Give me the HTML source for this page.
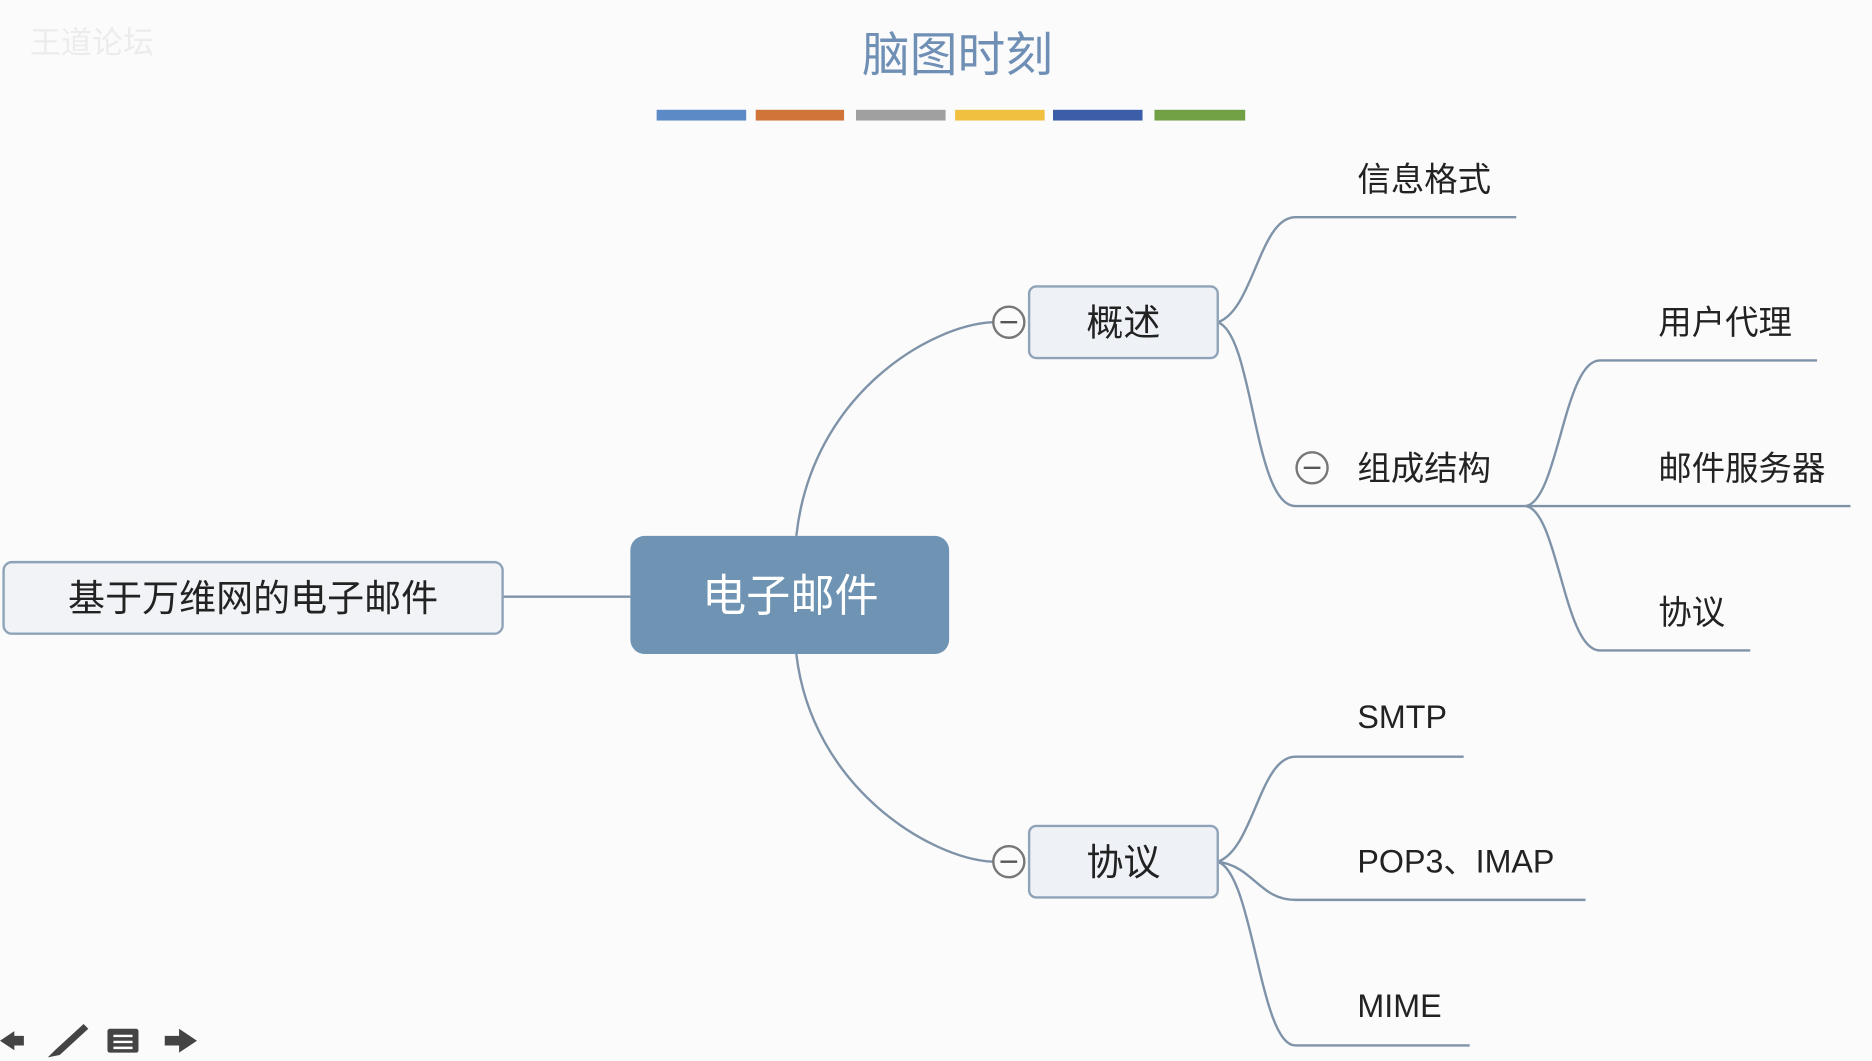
<!DOCTYPE html>
<html><head><meta charset="utf-8"><style>
html,body{margin:0;padding:0;background:#fbfbfc;}
svg{display:block}
text{font-family:"Liberation Sans","Noto Sans CJK SC",sans-serif;}
</style></head><body>
<svg width="1872" height="1061" viewBox="0 0 1568 889" preserveAspectRatio="none">
<rect width="1568" height="889" fill="#fbfbfc"/>
<text x="802" y="60" font-size="40" fill="#6f8fb5" text-anchor="middle">脑图时刻</text>
<g>
<rect x="550" y="92" width="75" height="9" fill="#5b8ac6"/>
<rect x="633" y="92" width="74" height="9" fill="#d0743a"/>
<rect x="717" y="92" width="75" height="9" fill="#a0a0a0"/>
<rect x="800" y="92" width="75" height="9" fill="#f0c040"/>
<rect x="882" y="92" width="75" height="9" fill="#3c5ea8"/>
<rect x="967" y="92" width="76" height="9" fill="#72a045"/>
</g>
<text x="25" y="45" font-size="26" fill="#ececec">王道论坛</text>
<g fill="none" stroke="#7f93a8" stroke-width="2">
<path d="M421 500 L528 500"/>
<path d="M667 449 C680 330 780 272 832 270"/>
<path d="M667 548 C680 660 780 720 832 722"/>
<path d="M1020 270 C1050 260 1055 182 1085 182 L1270 182"/>
<path d="M1020 270 C1050 280 1050 424 1085 424 L1278 424"/>
<path d="M1278 424 C1305 420 1310 302 1340 302 L1522 302"/>
<path d="M1278 424 L1550 424"/>
<path d="M1278 424 C1305 428 1310 545 1340 545 L1466 545"/>
<path d="M1020 722 C1050 712 1055 634 1085 634 L1226 634"/>
<path d="M1020 722 C1050 726 1055 754 1085 754 L1328 754"/>
<path d="M1020 722 C1050 732 1055 876 1085 876 L1231 876"/>
</g>
<rect x="528" y="449" width="267" height="99" rx="12" fill="#6f93b3"/>
<text x="662" y="512" font-size="37" fill="#fff" text-anchor="middle">电子邮件</text>
<rect x="3" y="471" width="418" height="60" rx="7" fill="#f1f3f7" stroke="#8fa3b8" stroke-width="2"/>
<text x="212" y="512" font-size="31" fill="#222" text-anchor="middle">基于万维网的电子邮件</text>
<rect x="862" y="240" width="158" height="60" rx="6" fill="#eef1f6" stroke="#8fa3b8" stroke-width="2"/>
<text x="941" y="281" font-size="31" fill="#222" text-anchor="middle">概述</text>
<rect x="862" y="692" width="158" height="60" rx="6" fill="#eef1f6" stroke="#8fa3b8" stroke-width="2"/>
<text x="941" y="733" font-size="31" fill="#222" text-anchor="middle">协议</text>
<g fill="#fbfbfc" stroke="#777" stroke-width="2">
<circle cx="845" cy="270" r="13"/><circle cx="845" cy="722" r="13"/><circle cx="1099" cy="392" r="13"/>
</g>
<g stroke="#555" stroke-width="2">
<line x1="838" y1="270" x2="852" y2="270"/><line x1="838" y1="722" x2="852" y2="722"/><line x1="1092" y1="392" x2="1106" y2="392"/>
</g>
<g font-size="28" fill="#222">
<text x="1137" y="160">信息格式</text>
<text x="1137" y="402">组成结构</text>
<text x="1389" y="280">用户代理</text>
<text x="1389" y="402">邮件服务器</text>
<text x="1389" y="523">协议</text>
<text x="1137" y="610" font-size="27">SMTP</text>
<text x="1137" y="731" font-size="27">POP3、IMAP</text>
<text x="1137" y="852" font-size="27">MIME</text>
</g>
<g fill="#444">
<polygon points="0,872 12,864 12,868 20,868 20,876 12,876 12,880"/>
<polygon points="40,886 46,880 70,858 74,862 50,884"/>
<rect x="90" y="862" width="26" height="20" rx="2"/>
<polygon points="138,868 150,868 150,862 165,872 150,882 150,876 138,876"/>
</g>
<g stroke="#fff" stroke-width="2"><line x1="95" y1="868" x2="111" y2="868"/><line x1="95" y1="873" x2="111" y2="873"/><line x1="95" y1="878" x2="111" y2="878"/></g>
</svg>
</body></html>
